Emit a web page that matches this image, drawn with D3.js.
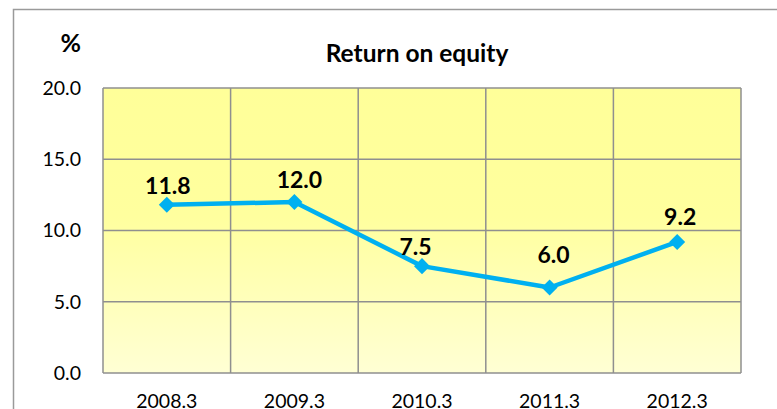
<!DOCTYPE html>
<html><head><meta charset="utf-8">
<script src="https://cdn.jsdelivr.net/npm/d3@7"></script>
<style>body{margin:0;background:#fff}svg{display:block}text{font-family:Lato,"Noto Sans",sans-serif}</style>
</head><body>
<svg id="c" width="777" height="409"></svg>
<script>
const categories = ["2008.3","2009.3","2010.3","2011.3","2012.3"];
const values = [11.8, 12.0, 7.5, 6.0, 9.2];
const yTicks = [0, 5, 10, 15, 20];
const title = "Return on equity";
const unit = "%";

// label nudges (layout only), as placed in the original chart
const labelNudge = [[1,-11],[5,-14],[-6.5,-11],[4,-24.5],[3,-17]];

const svg = d3.select("#c");
const W = 777, H = 409;
const m = {left:103, top:88, right:741, bottom:373};

svg.append("rect").attr("x",13.5).attr("y",9.5).attr("width",W).attr("height",H)
  .attr("fill","#fff").attr("stroke","#9a9a9a").attr("stroke-width",1.5);

const defs = svg.append("defs");
const g = defs.append("linearGradient").attr("id","bg").attr("x1",0).attr("y1",0).attr("x2",0).attr("y2",1);
g.append("stop").attr("offset","0%").attr("stop-color","#FFFF99");
g.append("stop").attr("offset","45%").attr("stop-color","#FFFF9E");
g.append("stop").attr("offset","100%").attr("stop-color","#FFFFD4");

const x = d3.scaleBand().domain(categories).range([m.left, m.right]).padding(0);
const y = d3.scaleLinear().domain([0,20]).range([m.bottom, m.top]);

svg.append("rect").attr("x",m.left).attr("y",m.top).attr("width",m.right-m.left).attr("height",m.bottom-m.top)
  .attr("fill","url(#bg)");

const grid = svg.append("g").attr("stroke","#8f8f8f").attr("stroke-width",1.5).attr("fill","none");
yTicks.forEach(t=>grid.append("line").attr("x1",m.left).attr("x2",m.right).attr("y1",y(t)).attr("y2",y(t)));
categories.forEach(c=>grid.append("line").attr("x1",x(c)).attr("x2",x(c)).attr("y1",m.top).attr("y2",m.bottom));
grid.append("line").attr("x1",m.right).attr("x2",m.right).attr("y1",m.top).attr("y2",m.bottom);

const yAxis = d3.axisLeft(y).tickValues(yTicks).tickFormat(d3.format(".1f")).tickSize(0).tickPadding(22);
const ya = svg.append("g").attr("transform",`translate(${m.left},0)`).call(yAxis);
ya.select(".domain").remove();
ya.selectAll("text").attr("font-size",19.5).attr("fill","#000").style("font-family","Lato");

const xAxis = d3.axisBottom(x).tickSize(0).tickPadding(21);
const xa = svg.append("g").attr("transform",`translate(0,${m.bottom})`).call(xAxis);
xa.select(".domain").remove();
xa.selectAll("text").attr("font-size",19.5).attr("fill","#000").style("font-family","Lato");

const cx = c => x(c) + x.bandwidth()/2;
const line = d3.line().x((d,i)=>cx(categories[i])).y(d=>y(d));
svg.append("path").datum(values).attr("d",line).attr("fill","none")
  .attr("stroke","#00B0F0").attr("stroke-width",4.5).attr("stroke-linejoin","round");

const sym = d3.symbol(d3.symbolSquare, 128);
svg.append("g").selectAll("path").data(values).join("path")
  .attr("d",sym).attr("fill","#00B0F0")
  .attr("transform",(d,i)=>`translate(${cx(categories[i])},${y(d)}) rotate(45)`);

svg.append("g").selectAll("text").data(values).join("text")
  .attr("x",(d,i)=>cx(categories[i]) + labelNudge[i][0])
  .attr("y",(d,i)=>y(d) + labelNudge[i][1])
  .attr("text-anchor","middle").attr("font-weight","bold").attr("font-size",23)
  .text(d=>d3.format(".1f")(d));

svg.append("text").attr("x",417).attr("y",62).attr("text-anchor","middle")
  .attr("font-weight","bold").attr("font-size",24.5).text(title);
svg.append("text").attr("x",81).attr("y",52).attr("text-anchor","end")
  .attr("font-weight","bold").attr("font-size",25).text(unit);
</script>
</body></html>
